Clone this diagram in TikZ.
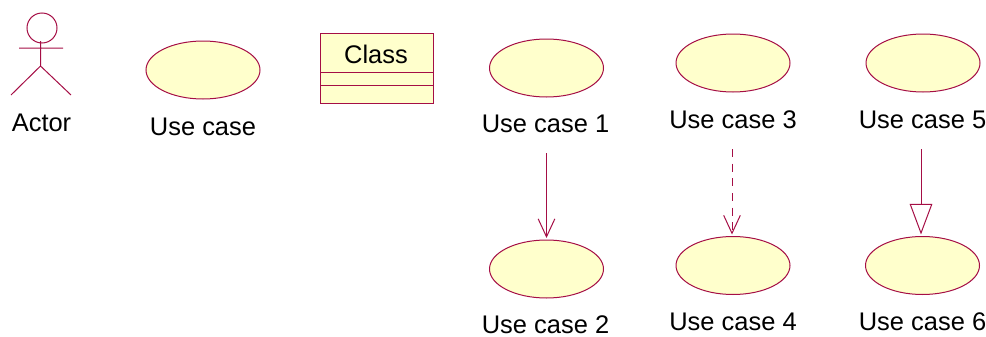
\documentclass[tikz,border=0pt]{standalone}
\usepackage{fontspec}
\setmainfont{Liberation Sans}
\usetikzlibrary{shapes.geometric,arrows.meta}
\definecolor{umlline}{HTML}{A50E45}
\definecolor{umlfill}{HTML}{FFFFCC}
\tikzset{
  umlshape/.style={draw=umlline,fill=umlfill,line width=0.75pt},
  usecase/.style={umlshape,ellipse,inner sep=0pt,outer sep=0pt,minimum width=85.5pt,minimum height=43.5pt},
  caption/.style={inner sep=0pt,outer sep=0pt,text=black,font=\fontsize{19.1pt}{20pt}\selectfont},
  srccaption/.style={caption,minimum height=43.5pt},
  umlink/.style={draw=umlline,line width=0.75pt},
  assoc/.style={umlink,-{Straight Barb[length=13.5pt,width=12.5pt,line width=0.75pt]},shorten >=1.5pt},
  depend/.style={assoc,dash pattern=on 6pt off 5pt},
  general/.style={umlink,-{Triangle[open,length=23pt,width=17pt,line width=0.75pt,fill=white]},shorten >=1.5pt},
}
\begin{document}
\begin{tikzpicture}[x=0.75pt,y=-0.75pt]
\useasboundingbox (0,0) rectangle (986,336);
% actor
\node (head) [draw=umlline,line width=0.75pt,circle,inner sep=0pt,outer sep=0pt,minimum size=22.5pt] at (42,28) {};
\coordinate (neck) at (40.5,41);
\coordinate (hip) at (40.5,66);
\coordinate (handl) at (19,48);
\coordinate (handr) at (63,48);
\coordinate (footl) at (11,95);
\coordinate (footr) at (71,95);
\draw[umlink] (neck) -- (hip) (handl) -- (handr) (footl) -- (hip) -- (footr);
\node (actorlab) [caption] at (41.5,122.5) {Actor};
% use case
\node (uc) [usecase] at (203,70) {};
\node (uclab) [caption] at (203,127) {Use case};
% class
\node (cls) [umlshape,inner sep=0pt,outer sep=0pt,minimum width=84.75pt,minimum height=52.5pt] at (376.5,68) {};
\node (clslab) [caption] at (376,54) {Class};
\draw[umlink] (cls.west |- 0,72) -- (cls.east |- 0,72);
\draw[umlink] (cls.west |- 0,85) -- (cls.east |- 0,85);
% numbered use cases
\node (uc1) [usecase] at (546.5,68) {};
\node (uc1lab) [srccaption] at (545.5,124) {Use case 1};
\node (uc2) [usecase] at (546.5,269) {};
\node (uc2lab) [caption] at (545.5,324.5) {Use case 2};
\node (uc3) [usecase] at (733,63) {};
\node (uc3lab) [srccaption] at (733,120) {Use case 3};
\node (uc4) [usecase] at (733,265.5) {};
\node (uc4lab) [caption] at (733,322) {Use case 4};
\node (uc5) [usecase] at (923,63) {};
\node (uc5lab) [srccaption] at (922.5,120) {Use case 5};
\node (uc6) [usecase] at (922.5,265.5) {};
\node (uc6lab) [caption] at (922.5,322) {Use case 6};
% connectors
\draw[assoc] (uc1lab.south -| 546.5,0) -- (uc2.north);
\draw[depend] (uc3lab.south -| 732,0) -- (uc4.north -| 732,0);
\draw[general] (uc5lab.south -| 921,0) -- (uc6.north -| 921,0);
\end{tikzpicture}
\end{document}
